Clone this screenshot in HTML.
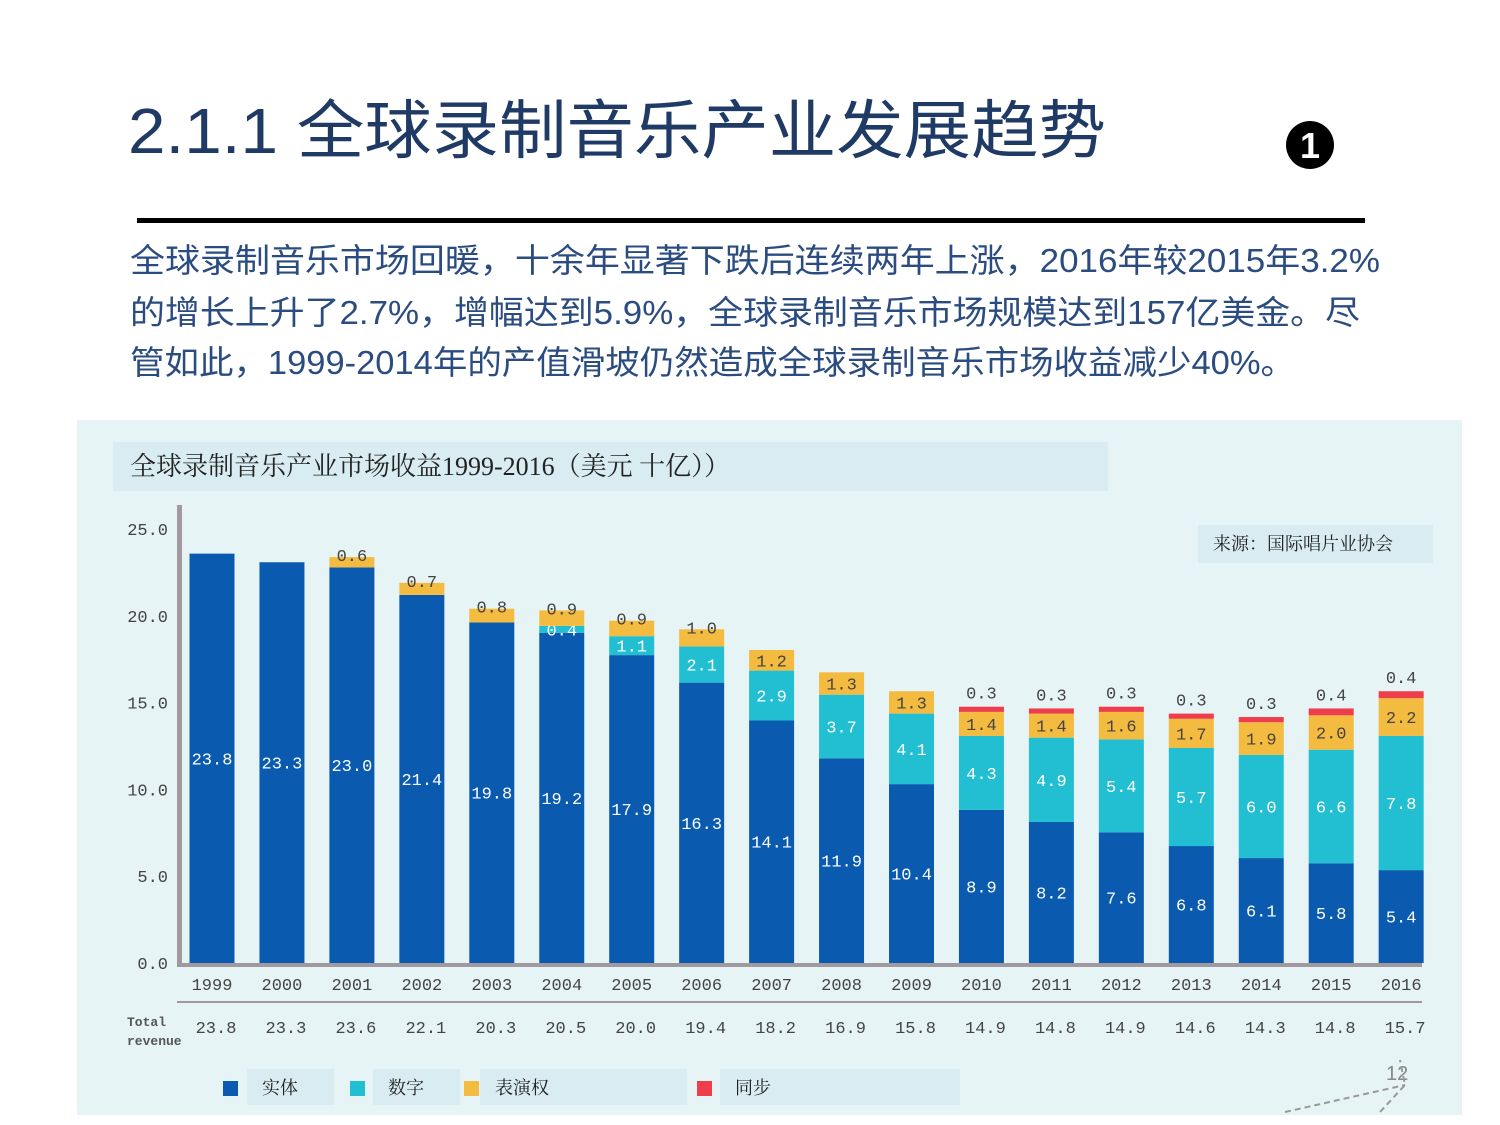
<!DOCTYPE html>
<html><head><meta charset="utf-8"><style>
html,body{margin:0;padding:0;background:#fff;}
svg{display:block;}
</style></head><body>
<svg id="page" width="1500" height="1125" viewBox="0 0 1500 1125" xmlns="http://www.w3.org/2000/svg">
<text x="128" y="153" font-family="'Liberation Sans','Noto Sans CJK SC',sans-serif" font-size="64" fill="#1f3a64" textLength="978" lengthAdjust="spacingAndGlyphs">2.1.1  全球录制音乐产业发展趋势</text>
<circle cx="1310" cy="145" r="24" fill="#000"/>
<text x="1310" y="158" text-anchor="middle" font-family="'Liberation Sans',sans-serif" font-weight="bold" font-size="36" fill="#fff">1</text>
<rect x="137" y="218" width="1228" height="5" fill="#000"/>
<g font-family="'Liberation Sans','Noto Sans CJK SC',sans-serif" font-size="33" fill="#2b4c80">
<text x="130" y="272" textLength="1250" lengthAdjust="spacingAndGlyphs">全球录制音乐市场回暖，十余年显著下跌后连续两年上涨，2016年较2015年3.2%</text>
<text x="130" y="324" textLength="1230" lengthAdjust="spacingAndGlyphs">的增长上升了2.7%，增幅达到5.9%，全球录制音乐市场规模达到157亿美金。尽</text>
<text x="130" y="374" textLength="1165" lengthAdjust="spacingAndGlyphs">管如此，1999-2014年的产值滑坡仍然造成全球录制音乐市场收益减少40%。</text>
</g>
<rect x="77" y="420" width="1385" height="695" fill="#e6f4f5"/>
<rect x="113" y="442" width="995" height="49" fill="#d9ecf2"/>
<text x="130" y="475" font-family="'Liberation Serif','Noto Serif CJK SC',serif" font-size="26" fill="#222">全球录制音乐产业市场收益1999-2016（美元 十亿））</text>
<rect x="1198" y="525" width="235" height="38" fill="#d9ecf2"/>
<text x="1213" y="550" font-family="'Liberation Serif','Noto Serif CJK SC',serif" font-size="18" fill="#222">来源：国际唱片业协会</text>
<g id="chart"></g>
<text x="1386" y="1080" font-family="'Liberation Sans',sans-serif" font-size="20" fill="#888">12</text>
<path d="M1285 1112 L1405 1085 M1380 1112 L1405 1085 L1400 1060" stroke="#999" stroke-width="2" stroke-dasharray="6 4" fill="none"/>
</svg>
<script>
const years = ["1999","2000","2001","2002","2003","2004","2005","2006","2007","2008","2009","2010","2011","2012","2013","2014","2015","2016"];
const physical = [23.8,23.3,23.0,21.4,19.8,19.2,17.9,16.3,14.1,11.9,10.4,8.9,8.2,7.6,6.8,6.1,5.8,5.4];
const digital = [0,0,0,0,0,0.4,1.1,2.1,2.9,3.7,4.1,4.3,4.9,5.4,5.7,6.0,6.6,7.8];
const performance = [0,0,0.6,0.7,0.8,0.9,0.9,1.0,1.2,1.3,1.3,1.4,1.4,1.6,1.7,1.9,2.0,2.2];
const sync = [0,0,0,0,0,0,0,0,0,0,0,0.3,0.3,0.3,0.3,0.3,0.4,0.4];
const totals = ["23.8","23.3","23.6","22.1","20.3","20.5","20.0","19.4","18.2","16.9","15.8","14.9","14.8","14.9","14.6","14.3","14.8","15.7"];
const yTicks = [0,5,10,15,20,25];

const NS="http://www.w3.org/2000/svg";
const g=document.getElementById('chart');
const y0=963, pxPerUnit=17.2;
function yScale(v){return y0 - v*pxPerUnit;}
function tickY(v){return y0 - v*17.36;}
function xScale(i){return 212 + i*69.95;}
const bw=45;
function mk(tag,attrs,parent){const e=document.createElementNS(NS,tag);for(const k in attrs)e.setAttribute(k,attrs[k]);(parent||g).appendChild(e);return e;}
const mono="'Liberation Mono','DejaVu Sans Mono',monospace";

let ax=mk('rect',{x:177,y:505,width:5,height:462,fill:'#a09aa0'});


let bx=mk('rect',{x:177,y:963,width:1245,height:4,fill:'#a09aa0'});


let sep=mk('rect',{x:177,y:1001,width:1245,height:2,fill:'#a09aa0'});



yTicks.forEach(t=>{
  const tx=mk('text',{x:168,y:tickY(t)+6,'text-anchor':'end','font-family':mono,'font-size':17,fill:'#444'});
  tx.textContent=t.toFixed(1);
  
  
});

const series=[[physical,'#0a5bb0','#fff','physical'],[digital,'#22bfd3','#fff','digital'],[performance,'#f4bb41','#444','performance'],[sync,'#ee3d4b','#444','sync']];
years.forEach((yr,i)=>{
  const cx=xScale(i);
  let base=0;
  series.forEach(([arr,col,tc,nm],si)=>{
    const v=arr[i];
    if(v<=0)return;
    const top=base+v;
    const r=mk('rect',{x:cx-bw/2,y:yScale(top),width:bw,height:yScale(base)-yScale(top),fill:col});
    
    
    let ly = si===3 ? yScale(top)-8 : (yScale(base)+yScale(top))/2+6;
    if(si===2 && v<1.05 && i<8) ly=yScale(top)+4;
    const t=mk('text',{x:cx,y:ly,'text-anchor':'middle','font-family':mono,'font-size':17,fill:tc});
    t.textContent=v.toFixed(1);
    
    
    base=top;
  });
  const xl=mk('text',{x:cx,y:990,'text-anchor':'middle','font-family':mono,'font-size':17,fill:'#444'});
  xl.textContent=yr;
  
  
  const tl=mk('text',{x:cx+4,y:1033,'text-anchor':'middle','font-family':mono,'font-size':17,fill:'#444'});
  tl.textContent=totals[i];
  
  
});
const tr1=mk('text',{x:127,y:1026,'font-family':mono,'font-size':13,'font-weight':'bold',fill:'#555'});
tr1.textContent='Total';


const tr2=mk('text',{x:127,y:1045,'font-family':mono,'font-size':13,'font-weight':'bold',fill:'#555'});
tr2.textContent='revenue';



const legendLabels=['实体','数字','表演权','同步'];
const legendColors=['#0a5bb0','#22bfd3','#f4bb41','#ee3d4b'];
const legendSwatchX=[223,350,464,697];
const legendBox=[[247,87],[373,87],[480,207],[720,240]];
legendLabels.forEach((lab,i)=>{
  const b=mk('rect',{x:legendBox[i][0],y:1069,width:legendBox[i][1],height:36,fill:'#d9ecf2'});
  
  
  const s=mk('rect',{x:legendSwatchX[i],y:1081,width:15,height:15,fill:legendColors[i]});
  
  
  const t=mk('text',{x:legendBox[i][0]+15,y:1094,'font-family':"'Liberation Serif','Noto Serif CJK SC',serif",'font-size':18,fill:'#222'});
  t.textContent=lab;
  
  
});
</script>
</body></html>
